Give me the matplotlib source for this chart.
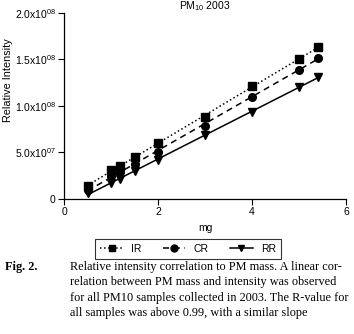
import numpy as np
import matplotlib
matplotlib.use("Agg")
import matplotlib.pyplot as plt

# mass (mg) of the samples
mass = [0.5, 1.0, 1.2, 1.5, 2.0, 3.0, 4.0, 5.0, 5.4]

# relative intensity for each method
ir = [1.4e7, 3.1e7, 3.5e7, 4.55e7, 6.0e7, 8.85e7, 1.22e8, 1.50e8, 1.63e8]
cr = [1.0e7, 2.5e7, 2.85e7, 3.75e7, 5.1e7, 7.85e7, 1.10e8, 1.39e8, 1.52e8]
rr = [0.6e7, 1.75e7, 2.15e7, 3.0e7, 4.2e7, 6.9e7, 9.4e7, 1.20e8, 1.31e8]

yticks = [0, 5.0e7, 1.0e8, 1.5e8, 2.0e8]
ytick_labels = ['0', r'5.0x10$^{07}$', r'1.0x10$^{08}$', r'1.5x10$^{08}$', r'2.0x10$^{08}$']
xticks = [0, 2, 4, 6]

caption = [
    "Relative intensity correlation to PM mass. A linear cor-",
    "relation between PM mass and intensity was observed",
    "for all PM10 samples collected in 2003. The R-value for",
    "all samples was above 0.99, with a similar slope",
]

plt.rcParams['font.family'] = ['Liberation Sans', 'DejaVu Sans']
plt.rcParams['mathtext.fontset'] = 'custom'
plt.rcParams['mathtext.rm'] = 'Liberation Sans'

fig = plt.figure(figsize=(3.54, 3.34), dpi=100)
ax = fig.add_axes([0.1808, 0.4042, 0.7966, 0.5569])

series = [
    ('IR', ir, 's', ':'),
    ('CR', cr, 'o', (0, (4, 3))),
    ('RR', rr, 'v', '-'),
]
x = np.array(mass)
for name, vals, mk, ls in series:
    # least squares line through the samples
    k, b = np.polyfit(x, vals, 1)
    xl = np.array([x.min(), x.max()])
    ax.plot(xl, k * xl + b, color='black', linestyle=ls, linewidth=1.1)
    ax.plot(x, vals, marker=mk, linestyle='none', color='black', markersize=5.5)

# legend handles: line + marker
handles = [plt.Line2D([], [], color='black', linestyle=ls, marker=mk,
                      markersize=5, linewidth=1.1) for _, _, mk, ls in series]
fig.legend(handles, [s[0] for s in series], loc='center', ncol=3,
           bbox_to_anchor=(0.531, 0.2545), frameon=True, fancybox=False,
           edgecolor='black', fontsize=7.5, handlelength=2.2, columnspacing=2.0,
           handletextpad=0.8, borderpad=0.5).get_frame().set_linewidth(0.8)

ax.set_xlim(0, 6)
ax.set_ylim(0, 2.0e8)
ax.set_xticks(xticks)
ax.set_yticks(yticks)
ax.set_yticklabels(ytick_labels)
ax.tick_params(labelsize=7.5, length=4, width=0.8, pad=2)
for s in ['top', 'right']:
    ax.spines[s].set_visible(False)
for s in ['left', 'bottom']:
    ax.spines[s].set_linewidth(0.9)

ax.set_title(r'PM$_{10}$ 2003', fontsize=7.5, pad=3)
ax.set_xlabel('mg', fontsize=7.5, labelpad=4)
ax.set_ylabel('Relative Intensity', fontsize=7.8)
ax.yaxis.set_label_coords(-0.18, 0.64)

# figure caption
fig.text(5 / 354, 1 - 267 / 334, 'Fig. 2.', fontsize=8.8, fontweight='bold',
         family='Liberation Serif', va='center')
for i, line in enumerate(caption):
    fig.text(70 / 354, 1 - (267 + 15.3 * i) / 334, line, fontsize=8.8,
             family='Liberation Serif', va='center')

fig.savefig('out.png', dpi=100)
